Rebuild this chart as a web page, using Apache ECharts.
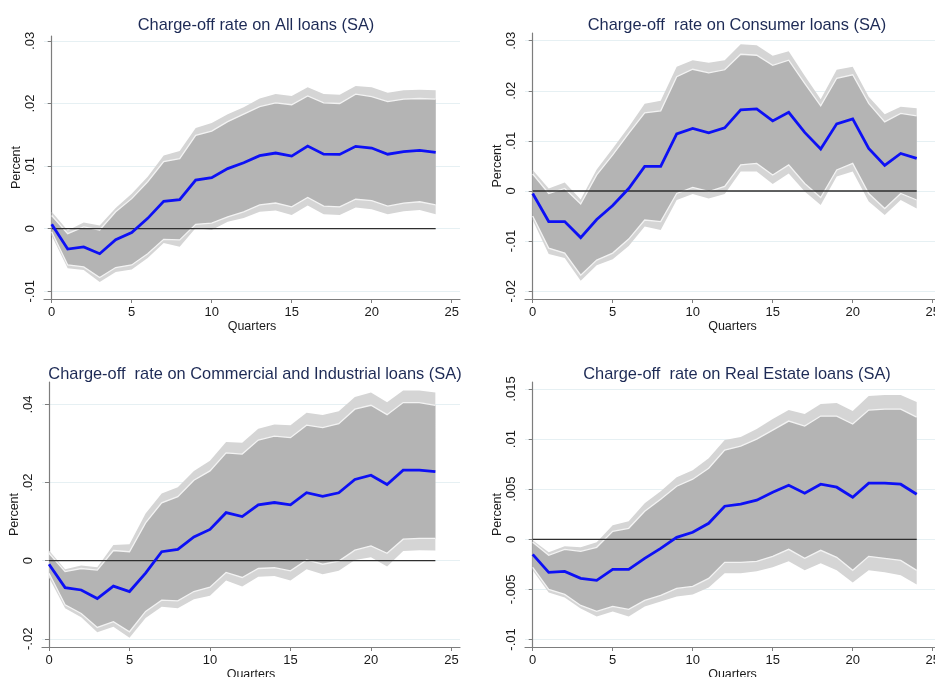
<!DOCTYPE html>
<html>
<head>
<meta charset="utf-8">
<script src="https://cdn.jsdelivr.net/npm/echarts@6/dist/echarts.min.js"></script>
<style>
  html, body { margin: 0; padding: 0; background: #ffffff; }
  #chart { width: 935px; height: 677px; }
</style>
</head>
<body>
<div id="chart"></div>
<script>
// Impulse responses of bank charge-off rates, horizon in quarters
const quarters = [0, 1, 2, 3, 4, 5, 6, 7, 8, 9, 10, 11, 12, 13, 14, 15, 16, 17, 18, 19, 20, 21, 22, 23, 24];
const xTicks = [0, 5, 10, 15, 20, 25];

// All loans
const allMid     = [0.0007, -0.00325, -0.0029, -0.0040, -0.00176, -0.0006, 0.00165, 0.00437, 0.00463, 0.00777, 0.00815, 0.0096, 0.01054, 0.01166, 0.01209, 0.0116, 0.0132, 0.0119, 0.01187, 0.01315, 0.01289, 0.0119, 0.0123, 0.01251, 0.0122];
const allOuterHi = [0.0027, -0.0003, 0.0010, 0.0005, 0.0033, 0.0056, 0.0083, 0.0117, 0.0124, 0.0161, 0.0169, 0.0183, 0.0194, 0.0208, 0.0215, 0.0212, 0.0226, 0.0215, 0.0214, 0.0228, 0.0226, 0.0217, 0.0221, 0.0222, 0.0221];
const allInnerHi = [0.0021, -0.0008, 0.0003, -0.0002, 0.0027, 0.0048, 0.0075, 0.0107, 0.0112, 0.0149, 0.0156, 0.0171, 0.0183, 0.0195, 0.0201, 0.0198, 0.0212, 0.0201, 0.0200, 0.0215, 0.0211, 0.0203, 0.0207, 0.0208, 0.0207];
const allInnerLo = [-0.0005, -0.0058, -0.0061, -0.0078, -0.0062, -0.0058, -0.0040, -0.0017, -0.0018, 0.0007, 0.0009, 0.0019, 0.0027, 0.0038, 0.0041, 0.0035, 0.0050, 0.0036, 0.0035, 0.0047, 0.0045, 0.0036, 0.0041, 0.0043, 0.0038];
const allOuterLo = [-0.0011, -0.0063, -0.0066, -0.0085, -0.0069, -0.0065, -0.0047, -0.0023, -0.0029, 0.0001, -0.0002, 0.0011, 0.0017, 0.0027, 0.0029, 0.0022, 0.0037, 0.0023, 0.0022, 0.0034, 0.0031, 0.0023, 0.0028, 0.0030, 0.0023];
const allTicks = [-0.01, 0, 0.01, 0.02, 0.03];
const allTickLabels = ['-.01', '0', '.01', '.02', '.03'];

// Consumer loans
const conMid     = [-0.0005, -0.0061, -0.0061, -0.0093, -0.0057, -0.0029, 0.0005, 0.0049, 0.0049, 0.0114, 0.0125, 0.0116, 0.0126, 0.0162, 0.0164, 0.0140, 0.0157, 0.0117, 0.0084, 0.0134, 0.0144, 0.0085, 0.0051, 0.0075, 0.0065];
const conOuterHi = [0.0042, 0.0005, 0.0017, -0.0017, 0.0043, 0.0085, 0.0128, 0.0174, 0.0180, 0.0248, 0.0261, 0.0256, 0.0261, 0.0293, 0.0291, 0.0270, 0.0279, 0.0230, 0.0183, 0.0242, 0.0248, 0.0188, 0.0153, 0.0168, 0.0165];
const conInnerHi = [0.0034, -0.0005, 0.0005, -0.0026, 0.0032, 0.0072, 0.0115, 0.0156, 0.0160, 0.0228, 0.0243, 0.0236, 0.0242, 0.0273, 0.0271, 0.0251, 0.0261, 0.0215, 0.0170, 0.0225, 0.0232, 0.0175, 0.0138, 0.0155, 0.0150];
const conInnerLo = [-0.0050, -0.0114, -0.0124, -0.0168, -0.0138, -0.0124, -0.0096, -0.0058, -0.0061, -0.0005, 0.0007, -0.0001, 0.0009, 0.0052, 0.0055, 0.0032, 0.0052, 0.0015, -0.0013, 0.0042, 0.0055, -0.0005, -0.0035, -0.0005, -0.0018];
const conOuterLo = [-0.0058, -0.0126, -0.0134, -0.0179, -0.0148, -0.0136, -0.0110, -0.0071, -0.0078, -0.0018, -0.0006, -0.0015, -0.0006, 0.0039, 0.0039, 0.0014, 0.0035, -0.0001, -0.0028, 0.0029, 0.0039, -0.0021, -0.0048, -0.0018, -0.0035];
const conTicks = [-0.02, -0.01, 0, 0.01, 0.02, 0.03];
const conTickLabels = ['-.02', '-.01', '0', '.01', '.02', '.03'];

// Commercial and industrial loans
const ciMid     = [-0.0009, -0.0069, -0.0075, -0.0097, -0.0065, -0.0079, -0.0032, 0.0023, 0.0029, 0.0061, 0.0080, 0.0123, 0.0113, 0.0143, 0.0149, 0.0143, 0.0174, 0.0165, 0.0174, 0.0208, 0.0219, 0.0195, 0.0232, 0.0232, 0.0228];
const ciOuterHi = [0.0026, -0.0022, -0.0012, -0.0017, 0.0040, 0.0042, 0.0121, 0.0172, 0.0188, 0.0230, 0.0256, 0.0304, 0.0302, 0.0338, 0.0349, 0.0347, 0.0379, 0.0373, 0.0383, 0.0419, 0.0431, 0.0406, 0.0436, 0.0436, 0.0431];
const ciInnerHi = [0.0019, -0.0028, -0.0020, -0.0024, 0.0026, 0.0023, 0.0097, 0.0148, 0.0164, 0.0206, 0.0230, 0.0276, 0.0273, 0.0309, 0.0319, 0.0315, 0.0347, 0.0341, 0.0351, 0.0388, 0.0398, 0.0374, 0.0405, 0.0405, 0.0398];
const ciInnerLo = [-0.0032, -0.0113, -0.0135, -0.0171, -0.0156, -0.0182, -0.0130, -0.0101, -0.0103, -0.0079, -0.0068, -0.0030, -0.0043, -0.0020, -0.0018, -0.0026, 0.0002, -0.0009, -0.0001, 0.0027, 0.0038, 0.0019, 0.0055, 0.0057, 0.0057];
const ciOuterLo = [-0.0043, -0.0122, -0.0145, -0.0183, -0.0169, -0.0197, -0.0147, -0.0118, -0.0122, -0.0099, -0.0090, -0.0051, -0.0066, -0.0041, -0.0039, -0.0051, -0.0022, -0.0035, -0.0026, 0.0002, 0.0009, -0.0015, 0.0025, 0.0027, 0.0026];
const ciTicks = [-0.02, 0, 0.02, 0.04];
const ciTickLabels = ['-.02', '0', '.02', '.04'];

// Real estate loans
const reMid     = [-0.0015, -0.0033, -0.0032, -0.0039, -0.0041, -0.0030, -0.0030, -0.0019, -0.0009, 0.0002, 0.0007, 0.0016, 0.0033, 0.0035, 0.0039, 0.0047, 0.0054, 0.0046, 0.0055, 0.0052, 0.0042, 0.0056, 0.0056, 0.0055, 0.0045];
const reOuterHi = [-0.0001, -0.0013, -0.0007, -0.0008, -0.0003, 0.0014, 0.0018, 0.0036, 0.0048, 0.0062, 0.0069, 0.0081, 0.0099, 0.0102, 0.0110, 0.0120, 0.0129, 0.0125, 0.0135, 0.0136, 0.0128, 0.0143, 0.0144, 0.0144, 0.0137];
const reInnerHi = [-0.0003, -0.0016, -0.0010, -0.0012, -0.0008, 0.0008, 0.0011, 0.0028, 0.0040, 0.0053, 0.0060, 0.0071, 0.0089, 0.0093, 0.0100, 0.0109, 0.0118, 0.0113, 0.0123, 0.0123, 0.0115, 0.0129, 0.0130, 0.0130, 0.0122];
const reInnerLo = [-0.0028, -0.0050, -0.0055, -0.0066, -0.0072, -0.0067, -0.0070, -0.0061, -0.0056, -0.0049, -0.0047, -0.0039, -0.0023, -0.0023, -0.0022, -0.0017, -0.0010, -0.0019, -0.0011, -0.0018, -0.0031, -0.0017, -0.0019, -0.0021, -0.0031];
const reOuterLo = [-0.0031, -0.0053, -0.0058, -0.0069, -0.0077, -0.0072, -0.0077, -0.0067, -0.0062, -0.0057, -0.0055, -0.0048, -0.0034, -0.0034, -0.0032, -0.0028, -0.0022, -0.0031, -0.0024, -0.0031, -0.0043, -0.0031, -0.0033, -0.0036, -0.0045];
const reTicks = [-0.01, -0.005, 0, 0.005, 0.01, 0.015];
const reTickLabels = ['-.01', '-.005', '0', '.005', '.01', '.015'];

const panels = [
  { title: 'Charge-off rate on All loans (SA)', mid: allMid, outerHi: allOuterHi, innerHi: allInnerHi, innerLo: allInnerLo, outerLo: allOuterLo, ticks: allTicks, tickLabels: allTickLabels },
  { title: 'Charge-off  rate on Consumer loans (SA)', mid: conMid, outerHi: conOuterHi, innerHi: conInnerHi, innerLo: conInnerLo, outerLo: conOuterLo, ticks: conTicks, tickLabels: conTickLabels },
  { title: 'Charge-off  rate on Commercial and Industrial loans (SA)', mid: ciMid, outerHi: ciOuterHi, innerHi: ciInnerHi, innerLo: ciInnerLo, outerLo: ciOuterLo, ticks: ciTicks, tickLabels: ciTickLabels },
  { title: 'Charge-off  rate on Real Estate loans (SA)', mid: reMid, outerHi: reOuterHi, innerHi: reInnerHi, innerLo: reInnerLo, outerLo: reOuterLo, ticks: reTicks, tickLabels: reTickLabels }
];

// Plot-region placement and axis extents for each panel
const layout = [
  { grid: { left: 44, top: 36, width: 416, height: 263 }, x: [-0.481, 25.52], y: [-0.01123, 0.03078], titleX: 251, titleY: 12 },
  { grid: { left: 525, top: 33, width: 415, height: 266 }, x: [-0.481, 25.456], y: [-0.02156, 0.03154], titleX: 732, titleY: 12 },
  { grid: { left: 42, top: 382, width: 418, height: 265 }, x: [-0.435, 25.53], y: [-0.0221, 0.04576], titleX: 250, titleY: 361 },
  { grid: { left: 525, top: 382, width: 415, height: 265 }, x: [-0.481, 25.456], y: [-0.01075, 0.0157], titleX: 732, titleY: 361 }
];

const FONT = '"Liberation Sans", Arial, Helvetica, sans-serif';
const AXIS_COLOR = '#7d7d7d';
const TEXT_COLOR = '#1a1a1a';

function bandSeries(idx, lo, hi, color) {
  return {
    type: 'custom',
    xAxisIndex: idx,
    yAxisIndex: idx,
    silent: true,
    z: 1,
    data: quarters.map((q, i) => [q, lo[i], hi[i]]),
    encode: { x: 0, y: [1, 2] },
    renderItem: function (params, api) {
      if (params.dataIndex !== 0) return null;
      const pts = [];
      for (let i = 0; i < quarters.length; i++) pts.push(api.coord([quarters[i], hi[i]]));
      for (let i = quarters.length - 1; i >= 0; i--) pts.push(api.coord([quarters[i], lo[i]]));
      return { type: 'polygon', shape: { points: pts }, style: { fill: color } };
    }
  };
}

function lineSeries(idx, values, color, width, z) {
  return {
    type: 'line',
    xAxisIndex: idx,
    yAxisIndex: idx,
    silent: true,
    z: z,
    symbol: 'none',
    animation: false,
    data: quarters.map((q, i) => [q, values[i]]),
    lineStyle: { color: color, width: width, join: 'miter' }
  };
}

const option = {
  backgroundColor: '#ffffff',
  animation: false,
  textStyle: { fontFamily: FONT },
  title: [],
  grid: [],
  xAxis: [],
  yAxis: [],
  series: []
};

panels.forEach((p, idx) => {
  const L = layout[idx];
  option.title.push({
    text: p.title,
    left: L.titleX,
    top: L.titleY,
    textAlign: 'center',
    textStyle: { fontFamily: FONT, fontSize: 16.4, fontWeight: 'normal', color: '#1d2a55' }
  });
  option.grid.push(Object.assign({ containLabel: false, outerBoundsMode: 'none' }, L.grid));
  option.xAxis.push({
    gridIndex: idx,
    type: 'value',
    min: L.x[0],
    max: L.x[1],
    name: 'Quarters',
    nameLocation: 'middle',
    nameGap: 20,
    nameTextStyle: { fontFamily: FONT, fontSize: 12.5, color: TEXT_COLOR },
    axisLine: { show: true, onZero: false, lineStyle: { color: AXIS_COLOR, width: 1.2 } },
    axisTick: { show: true, customValues: xTicks, length: 4, lineStyle: { color: AXIS_COLOR } },
    axisLabel: { customValues: xTicks, margin: 7, fontFamily: FONT, fontSize: 13, color: TEXT_COLOR, showMinLabel: true, showMaxLabel: true },
    splitLine: { show: false }
  });
  const labelFor = v => {
    const k = p.ticks.findIndex(t => Math.abs(t - v) < 1e-9);
    return k >= 0 ? p.tickLabels[k] : '';
  };
  option.yAxis.push({
    gridIndex: idx,
    type: 'value',
    min: L.y[0],
    max: L.y[1],
    name: 'Percent',
    nameLocation: 'middle',
    nameRotate: 90,
    nameGap: 19,
    nameTextStyle: { fontFamily: FONT, fontSize: 12.5, color: TEXT_COLOR },
    axisLine: { show: true, lineStyle: { color: AXIS_COLOR, width: 1.2 } },
    axisTick: { show: true, customValues: p.ticks, length: 4, lineStyle: { color: AXIS_COLOR } },
    axisLabel: { customValues: p.ticks, rotate: 90, margin: 7, fontFamily: FONT, fontSize: 13, color: TEXT_COLOR, formatter: labelFor, showMinLabel: true, showMaxLabel: true },
    splitLine: { show: true, lineStyle: { color: '#e6f0f3', width: 1 } }
  });

  option.series.push(bandSeries(idx, p.outerLo, p.outerHi, '#d5d5d5'));
  option.series.push(bandSeries(idx, p.innerLo, p.innerHi, '#b4b4b4'));
  option.series.push(lineSeries(idx, p.innerHi, '#f3f3f3', 1.3, 2));
  option.series.push(lineSeries(idx, p.innerLo, '#f3f3f3', 1.3, 2));
  option.series.push(lineSeries(idx, quarters.map(() => 0), '#2e2e2e', 1.3, 3));
  option.series.push(lineSeries(idx, p.mid, '#0d10f5', 2.8, 4));
});

const chart = echarts.init(document.getElementById('chart'), null, { renderer: 'canvas' });
chart.setOption(option);
</script>
</body>
</html>
